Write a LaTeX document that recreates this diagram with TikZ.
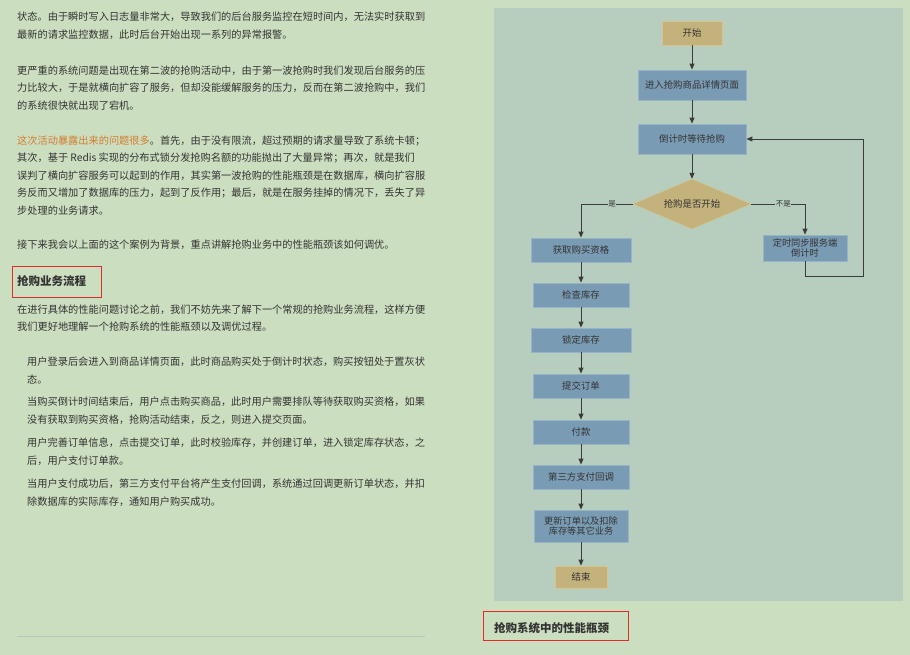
\documentclass[tikz,border=0pt]{standalone}
\usepackage{fontspec}
\setmainfont{Noto Sans CJK SC}
\usetikzlibrary{shapes.geometric,arrows.meta}
\definecolor{pagebg}{RGB}{204,222,192}
\definecolor{panel}{RGB}{183,205,189}
\definecolor{boxblue}{RGB}{122,155,180}
\definecolor{boxedge}{RGB}{150,180,200}
\definecolor{tan}{RGB}{196,178,124}
\definecolor{tanedge}{RGB}{214,196,140}
\definecolor{txt}{RGB}{51,51,51}
\definecolor{orangetxt}{RGB}{210,125,50}
\definecolor{redbox}{RGB}{230,40,40}
\definecolor{linec}{RGB}{60,60,60}
\definecolor{rule}{RGB}{180,200,185}
\tikzset{
 body/.style={anchor=west,inner sep=0,font=\fontsize{10.2}{12}\selectfont,text=txt},
 proc/.style={draw=boxedge,fill=boxblue,line width=0.8pt,minimum width=100pt,minimum height=24pt,inner sep=1pt,font=\fontsize{9.4}{11}\selectfont,text=txt,align=center},
 term/.style={draw=tanedge,fill=tan,line width=0.8pt,minimum width=60pt,minimum height=24pt,inner sep=1pt,font=\fontsize{9.4}{11}\selectfont,text=txt},
 conn/.style={draw=linec,line width=0.9pt,-{Triangle[length=6pt,width=5pt]}},
 lbl/.style={fill=panel,inner sep=0.5pt,font=\fontsize{7.5}{9}\selectfont,text=txt}
}
\begin{document}
\begin{tikzpicture}[x=1pt,y=-1pt]
\fill[pagebg] (0,0) rectangle (910,655);
\useasboundingbox (0,0) rectangle (910,655);
% left text
\node[body] (l1) at (17,17) {状态。由于瞬时写入日志量非常大，导致我们的后台服务监控在短时间内，无法实时获取到};
\node[body] (l2) at (17,35) {最新的请求监控数据，此时后台开始出现一系列的异常报警。};
\node[body] (l3) at (17,71) {更严重的系统问题是出现在第二波的抢购活动中，由于第一波抢购时我们发现后台服务的压};
\node[body] (l4) at (17,88) {力比较大，于是就横向扩容了服务，但却没能缓解服务的压力，反而在第二波抢购中，我们};
\node[body] (l5) at (17,106) {的系统很快就出现了宕机。};
\node[body] (l6) at (17,141) {\textcolor{orangetxt}{这次活动暴露出来的问题很多}。首先，由于没有限流，超过预期的请求量导致了系统卡顿；};
\node[body] (l7) at (17,158) {其次，基于 Redis 实现的分布式锁分发抢购名额的功能抛出了大量异常；再次，就是我们};
\node[body] (l8) at (17,176) {误判了横向扩容服务可以起到的作用，其实第一波抢购的性能瓶颈是在数据库，横向扩容服};
\node[body] (l9) at (17,193) {务反而又增加了数据库的压力，起到了反作用；最后，就是在服务挂掉的情况下，丢失了异};
\node[body] (l10) at (17,211) {步处理的业务请求。};
\node[body] (l11) at (17,245) {接下来我会以上面的这个案例为背景，重点讲解抢购业务中的性能瓶颈该如何调优。};
\node[body,font=\fontsize{11.5}{13}\selectfont\bfseries] (h1) at (17,281) {抢购业务流程};
\draw[redbox,line width=0.8pt] (12,266) rectangle (101,297);
\node[body] (l12) at (17,310) {在进行具体的性能问题讨论之前，我们不妨先来了解下一个常规的抢购业务流程，这样方便};
\node[body] (l13) at (17,327) {我们更好地理解一个抢购系统的性能瓶颈以及调优过程。};
\node[body] (b1) at (27,362) {用户登录后会进入到商品详情页面，此时商品购买处于倒计时状态，购买按钮处于置灰状};
\node[body] (b1b) at (27,380) {态。};
\node[body] (b2) at (27,402) {当购买倒计时间结束后，用户点击购买商品，此时用户需要排队等待获取购买资格，如果};
\node[body] (b2b) at (27,420) {没有获取到购买资格，抢购活动结束，反之，则进入提交页面。};
\node[body] (b3) at (27,443) {用户完善订单信息，点击提交订单，此时校验库存，并创建订单，进入锁定库存状态，之};
\node[body] (b3b) at (27,461) {后，用户支付订单款。};
\node[body] (b4) at (27,484) {当用户支付成功后，第三方支付平台将产生支付回调，系统通过回调更新订单状态，并扣};
\node[body] (b4b) at (27,502) {除数据库的实际库存，通知用户购买成功。};
\draw[rule,line width=0.6pt] (17,636) -- (425,636);
% panel
\fill[panel] (494,8) rectangle (903,601);
\node[term] (start) at (692,33) {开始};
\node[proc,minimum width=108pt,minimum height=30pt] (detail) at (692,85) {进入抢购商品详情页面};
\node[proc,minimum width=108pt,minimum height=30pt] (wait) at (692,139) {倒计时等待抢购};
\node[diamond,aspect=2.36,draw=tanedge,fill=tan,inner sep=0,minimum width=118pt,minimum height=50pt,font=\fontsize{9.4}{11}\selectfont,text=txt] (dec) at (692,204) {抢购是否开始};
\node[proc] (qual) at (581,250) {获取购买资格};
\node[proc,minimum width=96pt] (stock) at (581,295) {检查库存};
\node[proc] (lock) at (581,340) {锁定库存};
\node[proc,minimum width=96pt] (order) at (581,386) {提交订单};
\node[proc,minimum width=96pt] (pay) at (581,432) {付款};
\node[proc,minimum width=96pt] (cb) at (581,477) {第三方支付回调};
\node[proc,minimum width=94pt,minimum height=32pt,font=\fontsize{9.2}{10.5}\selectfont] (upd) at (581,526) {更新订单以及扣除\\库存等其它业务};
\node[term,minimum width=52pt,minimum height=22pt] (end) at (581,577) {结束};
\node[proc,minimum width=84pt,minimum height=26pt,font=\fontsize{9.2}{10.5}\selectfont] (sync) at (805,248) {定时同步服务端\\倒计时};
\draw[conn] (start) -- (detail);
\draw[conn] (detail) -- (wait);
\draw[conn] (wait) -- (dec);
\draw[conn] (dec.west) -| node[lbl,pos=0.2] {是} (qual.north);
\draw[conn] (dec.east) -| node[lbl,pos=0.3] {不是} (sync.north);
\coordinate (c1) at (805,276);
\coordinate (c2) at (863,276);
\coordinate (c3) at (863,139);
\draw[conn] (sync.south) -- (c1) -- (c2) -- (c3) -- (wait.east);
\draw[conn] (qual) -- (stock);
\draw[conn] (stock) -- (lock);
\draw[conn] (lock) -- (order);
\draw[conn] (order) -- (pay);
\draw[conn] (pay) -- (cb);
\draw[conn] (cb) -- (upd);
\draw[conn] (upd) -- (end);
\node[body,font=\fontsize{11.5}{13}\selectfont\bfseries] (h2) at (494,628) {抢购系统中的性能瓶颈};
\draw[redbox,line width=0.8pt] (483,611) rectangle (628,640);
\end{tikzpicture}
\end{document}
